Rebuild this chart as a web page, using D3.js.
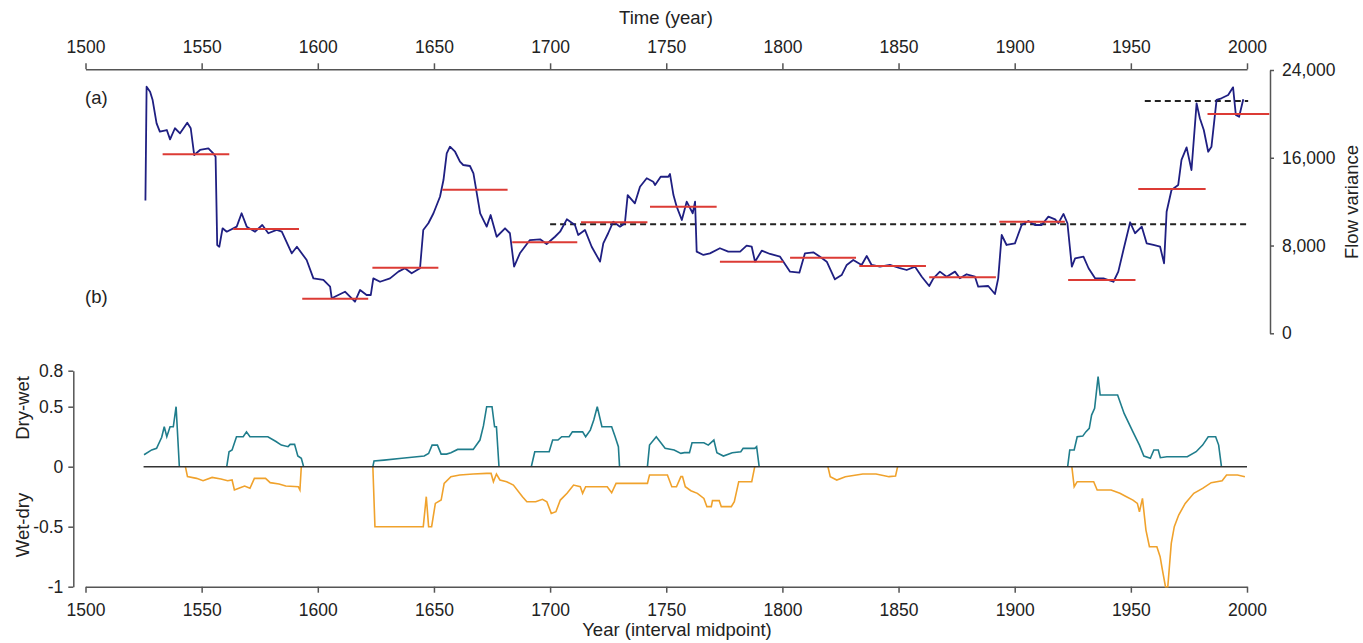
<!DOCTYPE html>
<html>
<head>
<meta charset="utf-8">
<script src="https://cdn.jsdelivr.net/npm/d3@7"></script>
<style>
    html, body { margin: 0; padding: 0; background: #fff; }
    #chart { width: 1363px; height: 643px; }
    text { font-family: 'Liberation Sans', Arial, sans-serif; fill: #222; }
    .axis path, .axis line { stroke: #555; stroke-width: 1.5px; }
    .axis text { font-size: 17.5px; fill: #222; }
</style>
</head>
<body>
<div id="chart"></div>
<script>
// Panel (a): flow variance
let flowYears = [1525.8, 1526.3, 1527.8, 1528.9, 1530.6, 1532, 1535, 1536.4, 1538.5, 1540.7, 1543.8, 1545.3, 1546.8, 1549.3, 1552.9, 1555, 1556, 1556.7, 1557.6, 1559, 1560.8, 1565.1, 1567.2, 1569.4, 1573, 1576.1, 1578.7, 1582.3, 1584.5, 1588.8, 1591, 1595.2, 1598.1, 1602.4, 1605.3, 1606, 1611.7, 1616, 1618.2, 1621, 1622.8, 1623.9, 1626.8, 1631.1, 1634.7, 1637.5, 1640.4, 1644, 1645.4, 1647.6, 1649.8, 1652.6, 1654.1, 1655.5, 1656.9, 1659.1, 1661.2, 1662.6, 1665.5, 1667, 1669.9, 1672.7, 1674.4, 1677, 1680.6, 1682.7, 1684.5, 1687, 1691.3, 1695.7, 1698.5, 1702.1, 1704.3, 1707.2, 1710.7, 1712.1, 1715, 1717.9, 1721.5, 1722.9, 1725, 1727.2, 1730.1, 1732.2, 1733.4, 1736.5, 1738.7, 1741.6, 1744.4, 1745.2, 1747.6, 1750.9, 1751.6, 1753.1, 1754.5, 1756.7, 1758.8, 1761.4, 1762.4, 1763.1, 1766, 1768.8, 1773.1, 1776.7, 1781.8, 1784.6, 1786.8, 1788.2, 1791.1, 1794.7, 1799, 1803.3, 1807.3, 1809.7, 1813.3, 1816.2, 1819.1, 1822.6, 1825.5, 1827.7, 1830.5, 1834.1, 1836.3, 1838.4, 1842, 1846.3, 1850.6, 1853.5, 1857.1, 1860, 1863.2, 1865, 1867.8, 1870.7, 1874.3, 1876.4, 1879.3, 1882.9, 1884.3, 1888.6, 1891.5, 1892.9, 1894.4, 1896.5, 1900.1, 1903, 1905.9, 1908.7, 1911.6, 1914.5, 1917.4, 1918.8, 1921, 1922.7, 1924.6, 1926, 1929.6, 1931.8, 1934.6, 1938.2, 1942.5, 1944.6, 1946.8, 1949.7, 1951.8, 1954.7, 1956.8, 1959.7, 1962.6, 1964.3, 1965.4, 1967.5, 1970.4, 1971.8, 1974, 1976.1, 1978.3, 1979.7, 1981.4, 1983.3, 1984.7, 1986.9, 1989, 1991.9, 1994, 1995.2, 1996.6, 1998.4];
let flowValues = [12100, 22480, 22020, 21260, 19140, 18380, 18530, 17680, 18690, 18230, 19200, 18690, 16250, 16710, 16860, 16410, 16100, 8050, 7890, 9570, 9260, 9720, 10940, 9720, 9260, 9870, 9120, 9420, 9260, 7290, 7890, 6680, 5010, 4860, 4250, 3190, 3790, 2880, 3950, 3490, 3490, 5010, 4700, 5010, 5620, 5930, 5470, 5930, 9420, 10030, 10940, 12450, 13970, 16400, 17010, 16550, 15640, 15340, 15250, 14580, 10940, 9720, 10780, 8800, 9570, 9120, 6070, 7290, 8500, 8570, 8140, 8800, 9260, 10390, 9870, 8960, 9420, 7890, 6530, 8200, 9120, 10170, 9720, 10030, 12600, 11850, 13360, 14130, 13820, 13520, 14270, 14270, 14520, 12600, 11540, 10330, 12000, 10940, 12000, 7440, 7140, 7290, 7750, 7440, 7440, 7990, 7890, 6530, 7530, 7230, 6980, 5620, 5530, 7290, 7380, 6980, 6530, 4920, 5310, 6230, 6680, 6230, 7050, 6230, 6070, 6230, 5930, 5770, 6070, 5160, 4310, 5010, 5620, 5160, 5620, 5010, 5380, 5160, 4250, 4310, 3580, 5010, 8960, 8050, 8200, 9870, 10240, 9870, 9870, 10630, 10390, 10030, 10880, 10030, 6070, 6830, 6980, 5930, 5010, 5010, 4700, 5620, 7590, 10120, 9120, 9720, 8200, 8050, 7890, 6380, 11080, 13060, 13520, 15800, 16950, 14880, 20960, 19600, 18530, 16550, 17010, 21270, 21420, 21720, 22420, 19900, 19740, 21330];

// 30-year means (red) and reference levels (dashed)
let meanStart = [1533.2, 1563.6, 1593.3, 1623.5, 1653.6, 1683.7, 1713.3, 1743, 1773.1, 1803.3, 1833.1, 1863.2, 1893.4, 1923, 1953.2, 1983];
let meanEnd = [1561.9, 1591.9, 1621.7, 1651.9, 1681.7, 1711.7, 1741.9, 1771.7, 1800.4, 1831.7, 1861.8, 1891.9, 1921.6, 1952, 1982.2, 2009.6];
let meanValue = [16310, 9500, 3160, 5980, 13090, 8300, 10120, 11540, 6530, 6890, 6140, 5100, 10170, 4860, 13150, 19990];
let dashStart = [1700, 1956];
let dashEnd = [2000.5, 2000.5];
let dashValue = [9940, 21170];

// Panel (b): dry-wet (teal) and wet-dry (orange), null = gap
let dryWetYears = [1525.2, 1528.5, 1530.6, 1532.8, 1533.9, 1535, 1536.4, 1537.8, 1539, 1540.4, null,
    1560.8, 1561.8, 1563.1, 1565, 1567.9, 1569.3, 1570.8, 1578.5, 1582, 1584.3, 1587.2, 1588.1, 1590, 1591.4, 1592.9, 1593.9, null,
    1623.7, 1624.2, 1628.5, 1636.2, 1645.8, 1647.7, 1649.2, 1651.5, 1653.1, 1655.4, 1657.3, 1660.2, 1666.9, 1669.8, 1671.3, 1672.7, 1675, 1676.1, 1676.9, 1678, null,
    1691.9, 1693.4, 1699.6, 1701.1, 1703.4, 1705, 1708.2, 1709.6, 1714, 1715.3, 1717.3, 1718.8, 1720.3, 1722.3, 1726.5, 1728, 1729.4, 1729.9, null,
    1741.9, 1742.8, 1745.7, 1749.5, 1753.4, 1756.3, 1757.8, 1760, 1761.1, 1766.2, 1768.1, 1770.5, 1771.8, 1774.6, 1778.4, 1782.1, 1783.1, 1788.1, 1788.9, 1790, null,
    1922.8, 1923.7, 1925.6, 1926.9, 1929.3, 1930.6, 1932.1, 1933.1, 1934.4, 1935.9, 1936.8, 1944.3, 1947.1, 1950.9, 1953.7, 1955.6, 1958.4, 1959.9, 1961.8, 1962.7, 1965.5, 1974.3, 1978.1, 1980.9, 1983.3, 1986.5, 1987.8, 1989];
let dryWetValues = [0.1, 0.14, 0.153, 0.245, 0.333, 0.25, 0.333, 0.333, 0.5, 0, null,
    0, 0.125, 0.139, 0.25, 0.25, 0.29, 0.25, 0.25, 0.21, 0.18, 0.167, 0.186, 0.186, 0.089, 0.07, 0, null,
    0, 0.047, 0.055, 0.07, 0.089, 0.11, 0.18, 0.18, 0.105, 0.105, 0.117, 0.144, 0.144, 0.222, 0.34, 0.5, 0.5, 0.333, 0.333, 0, null,
    0, 0.125, 0.125, 0.222, 0.222, 0.25, 0.25, 0.29, 0.29, 0.25, 0.305, 0.39, 0.5, 0.333, 0.333, 0.25, 0.167, 0, null,
    0, 0.18, 0.25, 0.153, 0.139, 0.111, 0.117, 0.117, 0.2, 0.2, 0.18, 0.222, 0.117, 0.089, 0.117, 0.125, 0.153, 0.153, 0.167, 0, null,
    0, 0.139, 0.139, 0.25, 0.255, 0.29, 0.32, 0.43, 0.486, 0.75, 0.597, 0.597, 0.444, 0.29, 0.18, 0.089, 0.07, 0.139, 0.139, 0.075, 0.083, 0.083, 0.125, 0.18, 0.25, 0.25, 0.18, 0];
let wetDryYears = [1543, 1543.9, 1547.8, 1550.6, 1554.5, 1558.3, 1561.2, 1563.1, 1564.1, 1566, 1568.5, 1570.8, 1572.7, 1577.5, 1579.5, 1583.3, 1586.2, 1591.6, 1592.3, 1592.9, null,
    1623.7, 1624.6, 1645.4, 1646.7, 1647.7, 1649, 1650.6, 1653.1, 1654.4, 1657.3, 1661.1, 1666.9, 1672.7, 1674.6, 1675.6, 1676.9, 1678.4, 1681.3, 1684.2, 1688.1, 1690, 1693.8, 1696.7, 1698.6, 1700.5, 1702.5, 1704.4, 1707.3, 1710.1, 1713, 1714, 1715.3, 1724.6, 1726.5, 1728.4, 1741.9, 1742.8, 1750.5, 1752.4, 1754.4, 1756.3, 1757, 1758.2, 1760.6, 1763.4, 1766.2, 1767.5, 1769.4, 1769.9, 1772.8, 1773.7, 1778, 1779.3, 1781.2, 1786.8, 1788.1, null,
    1819.6, 1820.6, 1823.4, 1827.1, 1834.6, 1840.3, 1845.9, 1848.7, 1849.6, null,
    1924.6, 1925.6, 1926.9, 1934, 1935.5, 1941.5, 1945.3, 1948.1, 1950.9, 1952.8, 1953.7, 1955, 1956.5, 1958, 1961.2, 1962.6, 1963.6, 1964.9, 1965.9, 1967.4, 1968.7, 1970.6, 1973.4, 1977.1, 1980.9, 1984.6, 1989.3, 1991.2, 1995.9, 1999.1];
let wetDryValues = [0, -0.083, -0.097, -0.117, -0.089, -0.103, -0.117, -0.111, -0.194, -0.18, -0.161, -0.18, -0.097, -0.097, -0.133, -0.144, -0.161, -0.167, -0.194, 0, null,
    0, -0.5, -0.5, -0.25, -0.5, -0.5, -0.306, -0.278, -0.139, -0.083, -0.069, -0.061, -0.056, -0.056, -0.125, -0.061, -0.111, -0.125, -0.153, -0.25, -0.292, -0.292, -0.272, -0.292, -0.389, -0.375, -0.278, -0.222, -0.153, -0.167, -0.222, -0.167, -0.167, -0.217, -0.139, -0.139, -0.069, -0.069, -0.167, -0.167, -0.083, -0.083, -0.167, -0.2, -0.222, -0.264, -0.333, -0.333, -0.283, -0.283, -0.333, -0.333, -0.292, -0.125, -0.125, 0, null,
    0, -0.083, -0.111, -0.083, -0.061, -0.061, -0.083, -0.078, 0, null,
    0, -0.167, -0.125, -0.125, -0.194, -0.194, -0.222, -0.25, -0.278, -0.306, -0.375, -0.264, -0.528, -0.667, -0.667, -0.75, -0.861, -1, -1, -0.639, -0.5, -0.403, -0.306, -0.222, -0.181, -0.133, -0.117, -0.069, -0.069, -0.083];

// Axis ticks
let yearTicks = [1500, 1550, 1600, 1650, 1700, 1750, 1800, 1850, 1900, 1950, 2000];
let flowTicks = [0, 8000, 16000, 24000];
let indexTicks = [0.8, 0.5, 0, -0.5, -1];
let zeroLine = [1525, 2000];

let svg = d3.select('#chart')
    .append('svg')
    .attr('width', 1363)
    .attr('height', 643);

//Escalas
let x = d3.scaleLinear().domain([1500, 2000]).range([85.5, 1247]);
let yA = d3.scaleLinear().domain([0, 24000]).range([333.3, 70]);
let yB = d3.scaleLinear().domain([-1, 0.8]).range([586.7, 370.7]);

function pairs(xs, ys) {
    return xs.map((d, i) => [d, ys[i]]);
}

//Ejes
svg.append('g')
    .attr('class', 'axis')
    .attr('transform', 'translate(0,69.3)')
    .call(d3.axisTop(x).tickValues(yearTicks).tickSize(6).tickSizeOuter(0).tickPadding(10.5).tickFormat(d3.format('d')));

svg.append('g')
    .attr('class', 'axis')
    .attr('transform', 'translate(1270,0)')
    .call(d3.axisRight(yA).tickValues(flowTicks).tickSize(4).tickSizeOuter(0).tickPadding(8).tickFormat(d3.format(',')));

svg.append('g')
    .attr('class', 'axis')
    .attr('transform', 'translate(0,586.7)')
    .call(d3.axisBottom(x).tickValues(yearTicks).tickSize(6).tickSizeOuter(0).tickPadding(10.5).tickFormat(d3.format('d')));

svg.append('g')
    .attr('class', 'axis')
    .attr('transform', 'translate(73.3,0)')
    .call(d3.axisLeft(yB).tickValues(indexTicks).tickSize(5).tickSizeOuter(0).tickPadding(5).tickFormat(d => String(d)));

//Títulos
svg.append('text').attr('x', 666).attr('y', 24).attr('text-anchor', 'middle').style('font-size', '18.5px').text('Time (year)');
svg.append('text').attr('x', 677).attr('y', 636).attr('text-anchor', 'middle').style('font-size', '18.5px').text('Year (interval midpoint)');
svg.append('text').attr('transform', 'translate(1352,202) rotate(-90)').attr('text-anchor', 'middle').attr('dy', '0.35em').style('font-size', '18.5px').text('Flow variance');
svg.append('text').attr('transform', 'translate(23,408) rotate(-90)').attr('text-anchor', 'middle').attr('dy', '0.35em').style('font-size', '18.5px').text('Dry-wet');
svg.append('text').attr('transform', 'translate(23,525) rotate(-90)').attr('text-anchor', 'middle').attr('dy', '0.35em').style('font-size', '18.5px').text('Wet-dry');
svg.append('text').attr('x', 85).attr('y', 104).style('font-size', '18.5px').text('(a)');
svg.append('text').attr('x', 85).attr('y', 303).style('font-size', '18.5px').text('(b)');

//Panel (a)
let lineA = d3.line()
    .x(d => x(d[0]))
    .y(d => yA(d[1]));

svg.selectAll('.dash')
    .data(dashValue)
    .enter()
    .append('line')
    .attr('class', 'dash')
    .attr('x1', (d, i) => x(dashStart[i]))
    .attr('x2', (d, i) => x(dashEnd[i]))
    .attr('y1', d => yA(d))
    .attr('y2', d => yA(d))
    .attr('stroke', '#222')
    .attr('stroke-width', 2)
    .attr('stroke-dasharray', '6,4');

svg.append('path')
    .datum(pairs(flowYears, flowValues))
    .attr('fill', 'none')
    .attr('stroke', '#1f1f82')
    .attr('stroke-width', 1.8)
    .attr('stroke-linejoin', 'round')
    .attr('d', lineA);

svg.selectAll('.mean')
    .data(meanValue)
    .enter()
    .append('line')
    .attr('class', 'mean')
    .attr('x1', (d, i) => x(meanStart[i]))
    .attr('x2', (d, i) => x(meanEnd[i]))
    .attr('y1', d => yA(d))
    .attr('y2', d => yA(d))
    .attr('stroke', '#dc3b35')
    .attr('stroke-width', 2);

//Panel (b)
let lineB = d3.line()
    .defined(d => d[0] !== null)
    .x(d => x(d[0]))
    .y(d => yB(d[1]));

svg.append('path')
    .datum(pairs(dryWetYears, dryWetValues))
    .attr('fill', 'none')
    .attr('stroke', '#1f7d8c')
    .attr('stroke-width', 1.6)
    .attr('d', lineB);

svg.append('path')
    .datum(pairs(wetDryYears, wetDryValues))
    .attr('fill', 'none')
    .attr('stroke', '#f0a22c')
    .attr('stroke-width', 1.6)
    .attr('d', lineB);

svg.append('line')
    .attr('x1', x(zeroLine[0]))
    .attr('x2', x(zeroLine[1]))
    .attr('y1', yB(0))
    .attr('y2', yB(0))
    .attr('stroke', '#333')
    .attr('stroke-width', 1.6);
</script>
</body>
</html>
